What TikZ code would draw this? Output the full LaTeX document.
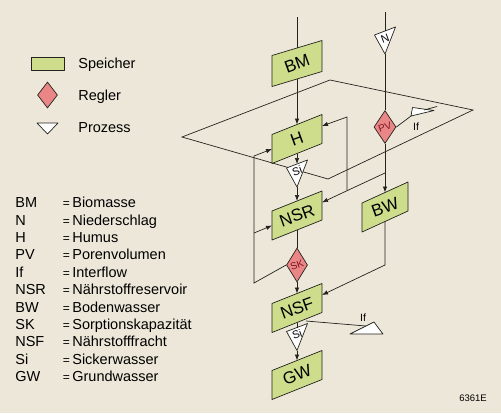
\documentclass[tikz,border=0pt]{standalone}
\usepackage{fontspec}
\setmainfont{Liberation Sans}
\usetikzlibrary{shapes.geometric,arrows.meta}
\definecolor{bgbeige}{RGB}{237,231,217}
\definecolor{speichergruen}{RGB}{205,221,140}
\definecolor{reglerrot}{RGB}{234,134,134}
\definecolor{reglertext}{RGB}{125,25,35}
\definecolor{strich}{RGB}{35,35,30}

\begin{document}
\begin{tikzpicture}[x=1pt, y=-1pt, line width=0.7pt,
    speicher/.style={draw=strich, fill=speichergruen, line join=round},
    regler/.style={diamond, draw=strich, fill=reglerrot, inner sep=0pt},
    prozess/.style={draw=strich, fill=white, line join=round},
    verbindung/.style={draw=strich},
    pfeil/.style={draw=strich, -{Latex[length=6pt,width=4.5pt]}},
    boxtext/.style={rotate=20, inner sep=0pt, font=\fontsize{17}{18}\selectfont},
    reglerschrift/.style={rotate=20, inner sep=0pt, text=reglertext, font=\fontsize{10}{11}\selectfont},
    dreieckschrift/.style={rotate=20, inner sep=0pt, font=\fontsize{11}{12}\selectfont},
    klein/.style={inner sep=0pt, font=\fontsize{10.5}{11}\selectfont},
    legende/.style={anchor=base west, inner sep=0pt, font=\fontsize{14.5}{17}\selectfont}]
			\fill[bgbeige] (0,0) rectangle (501,413);
			\useasboundingbox (0,0) rectangle (501,413);
			% Ebene
			\draw[verbindung] (182,137) -- (330,80) -- (473,110) -- (328,179) -- cycle;
			% Speicher
			\foreach \n/\cx/\cy/\w/\h/\r in {BM/297/63.5/50/31/15, H/297/139/50/29/20, NSR/297/215.5/50/29/20, BW/385/207/46/29/21, NSF/297/308/50/29/20, GW/297/375/50/29/20} {
				\draw[speicher] (\cx-\w/2,\cy-\h/2+\r/2) -- (\cx-\w/2,\cy+\h/2+\r/2) -- (\cx+\w/2,\cy+\h/2-\r/2) -- (\cx+\w/2,\cy-\h/2-\r/2) -- cycle;
				\node[boxtext] (\n) at (\cx,\cy) {\n};
				\coordinate (\n-t) at (\cx,\cy-\h/2);
				\coordinate (\n-b) at (\cx,\cy+\h/2);
				\coordinate (\n-l) at (\cx-\w/2,\cy+10);
				\coordinate (\n-r) at (\cx+\w/2,\cy-13);
			}
			% Regler
			\node[regler, minimum width=22pt, minimum height=33pt] (PV) at (385,127) {};
			\node[reglerschrift] (PVtext) at (PV) {PV};
			\node[regler, minimum width=21pt, minimum height=34pt] (SK) at (297,265) {};
			\node[reglerschrift] (SKtext) at (SK) {SK};
			% Prozesse
			\foreach \n/\cx/\cy/\lab/\dy in {N/385/31/N/8, Si1/297/164/Si/7, Si2/297/327.5/Si/7} {
				\draw[prozess] (\cx-10.5,\cy+4) -- (\cx+10.5,\cy-4) -- (\cx,\cy+23) -- cycle;
				\node[dreieckschrift] (\n-text) at (\cx,\cy+\dy) {\lab};
				\coordinate (\n-t) at (\cx,\cy);
				\coordinate (\n-b) at (\cx,\cy+23);
			}
			% Verbindungen
			\coordinate (BMin) at (297,17);
			\coordinate (Nin) at (385,12);
			\draw[verbindung] (BMin) -- (BM-t);
			\draw[pfeil] (BM-b) -- (H-t);
			\draw[pfeil] (H-b) -- (Si1-t);
			\draw[pfeil] (Si1-b) -- (NSR-t);
			\draw[verbindung] (Nin) -- (N-t);
			\draw[verbindung] (N-b) -- (PV.north);
			\draw[pfeil] (PV.south) -- (BW-t);
			\coordinate (j1) at (385,173);
			\coordinate (j2) at (347,190.7);
			\coordinate (j3) at (347,117);
			\draw[pfeil] (j1) -- (j2) -- (NSR-r);
			\draw[pfeil] (j2) -- (j3) -- (H-r);
			\draw[verbindung] (NSR-b) -- (SK.north);
			\draw[pfeil] (SK.south) -- (NSF-t);
			\coordinate (k1) at (254,283);
			\coordinate (k2) at (254,233);
			\coordinate (k3) at (254,156);
			\draw[pfeil] (SK.west) -- (k1) -- (k3) -- (H-l);
			\draw[pfeil] (k2) -- (NSR-l);
			\coordinate (m1) at (385,265);
			\draw[pfeil] (BW-b) -- (m1) -- (NSF-r);
			\draw[verbindung] (NSF-b) -- (Si2-t);
			\draw[pfeil] (Si2-b) -- (GW-t);
			% Interflow
			\coordinate (if1) at (411,116);
			\draw[verbindung] (PV.east) -- (if1);
			\draw[prozess] (if1) -- (412.5,107.5) -- (434,110.5) -- cycle;
			\draw[verbindung] (424,110) -- (437,106.5);
			\node[klein] (If1) at (416,127) {If};
			\coordinate (NSF-o) at (306,321);
			\coordinate (if2) at (366,326);
			\draw[verbindung] (NSF-o) -- (if2);
			\draw[prozess] (350,334) -- (383,334) -- (374,322) -- cycle;
			\node[klein] (If2) at (363,318) {If};
			% Legende
			\draw[speicher] (31,57) rectangle (64,70);
			\node[regler, minimum width=20pt, minimum height=26pt] (legR) at (47.5,95) {};
			\draw[prozess] (37,123) -- (58,123) -- (47.5,134) -- cycle;
			\node[legende] (legS) at (78,68.5) {Speicher};
			\node[legende] (legRt) at (78,100.5) {Regler};
			\node[legende] (legP) at (78,132) {Prozess};
			\foreach \k/\t [count=\i from 0] in {BM/Biomasse, N/Niederschlag, H/Humus, PV/Porenvolumen, If/Interflow, NSR/Nährstoffreservoir, BW/Bodenwasser, SK/Sorptionskapazität, NSF/Nährstofffracht, Si/Sickerwasser, GW/Grundwasser} {
				\node[legende] (abk\i) at (15,207.7+17.4*\i) {\k};
				\node[legende] (erkl\i) at (62.5,207.7+17.4*\i) {\makebox[9.5pt][l]{\fontsize{12}{12}\selectfont=}\t};
			}
			\node[inner sep=0pt, font=\fontsize{9.5}{10}\selectfont] (kennung) at (473,398) {6361E};
		\end{tikzpicture}
\end{document}
